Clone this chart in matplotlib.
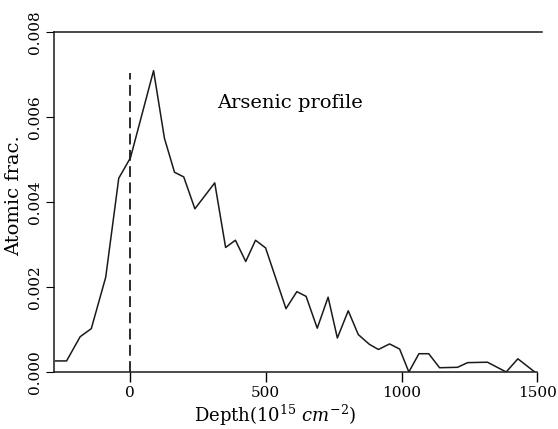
import matplotlib
matplotlib.use("Agg")
import matplotlib.pyplot as plt

plt.rcParams['font.family'] = ['DejaVu Serif']
plt.rcParams['mathtext.fontset'] = 'dejavuserif'

depth = [-272, -232, -182, -141, -88, -40, 3, 88, 128, 165, 199, 240, 313, 353,
         389, 427, 463, 500, 575, 615, 649, 690, 730, 764, 804, 841, 882, 915,
         956, 993, 1027, 1064, 1100, 1140, 1206, 1243, 1316, 1385, 1428, 1490]
frac = [0.00026, 0.00026, 0.00083, 0.00102, 0.00223, 0.00456, 0.00504, 0.00709,
        0.00550, 0.00470, 0.00459, 0.00384, 0.00445, 0.00293, 0.00310, 0.00260,
        0.00310, 0.00292, 0.00149, 0.00189, 0.00178, 0.00103, 0.00176, 0.00080,
        0.00144, 0.00088, 0.00065, 0.00053, 0.00066, 0.00054, 0.00000, 0.00043,
        0.00043, 0.00010, 0.00011, 0.00022, 0.00023, 0.00000, 0.00031, 0.00000]
marker_depth = [0, 0]
marker_frac = [0.0, 0.00703]

xticks = [0, 500, 1000, 1500]
yticks = [0.000, 0.002, 0.004, 0.006, 0.008]

fig = plt.figure(figsize=(5.58, 4.29), dpi=100)
ax = fig.add_axes([0.0959, 0.1329, 0.8746, 0.7925])

ax.plot(depth, frac, color='#1a1a1a', lw=1.1)
ax.plot(marker_depth, marker_frac, color='#1a1a1a', lw=1.3,
        linestyle=(0, (6, 3)))

ax.set_xlim(-280, 1515)
ax.set_ylim(0, 0.008)
ax.spines['right'].set_visible(False)
ax.spines['bottom'].set_bounds(-280, 1500)
for s in ['left', 'bottom', 'top']:
    ax.spines[s].set_linewidth(1.1)
    ax.spines[s].set_color('#1a1a1a')

ax.set_xticks(xticks)
ax.set_xticklabels([str(t) for t in xticks])
ax.set_yticks(yticks)
ax.set_yticklabels(['%.3f' % t for t in yticks], rotation=90, va='center')
ax.tick_params(axis='x', direction='out', length=7, width=1.0, pad=3,
               labelsize=11, top=False)
ax.tick_params(axis='y', direction='out', length=6, width=0.8, pad=2,
               labelsize=11, right=False)

xl = ax.set_xlabel('Depth(10$^{15}$ $\\mathit{cm}^{-2}$)', fontsize=13)
xl.set_verticalalignment('center')
ax.xaxis.set_label_coords(0.454, -0.128)
yl = ax.set_ylabel('Atomic frac.', fontsize=14)
yl.set_verticalalignment('center')
ax.yaxis.set_label_coords(-0.081, 0.52)

ax.text(0.485, 0.79, 'Arsenic profile', transform=ax.transAxes,
        ha='center', va='center', fontsize=14)

fig.savefig('out.png', dpi=100)
